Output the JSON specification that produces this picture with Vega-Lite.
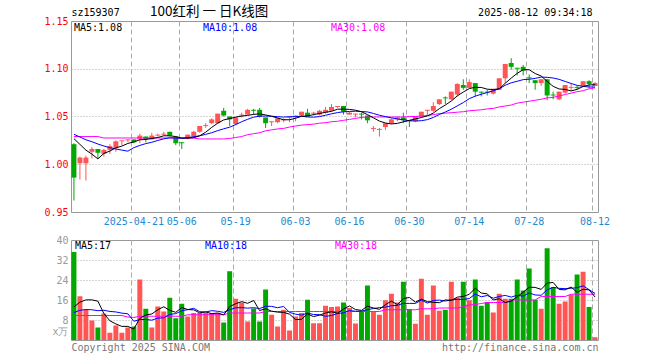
{
"$schema":"https://vega.github.io/schema/vega-lite/v6.json",
"padding":{"left":43,"top":4,"right":0,"bottom":0},
"background":"white",
"bounds":"flush",
"spacing":28,
"config":{"view":{"stroke":"#999","strokeWidth":1},"font":"DejaVu Sans Mono","axis":{"labelOverlap":false}},
"data":{"values":[
{"d":"2025-04-07","o":1.021,"h":1.022,"l":0.962,"c":0.986,"v":35.2,"m5":1.0268,"m10":1.0314,"m30":1.029,"vm5":13.2,"vm10":11.0,"vm30":9.8},
{"d":"2025-04-08","o":1.001,"h":1.008,"l":0.984,"c":1.007,"v":17.5,"m5":1.0208,"m10":1.0285,"m30":1.029,"vm5":15.16,"vm10":11.87,"vm30":9.8},
{"d":"2025-04-09","o":1.001,"h":1.009,"l":0.983,"c":1.007,"v":12.1,"m5":1.0148,"m10":1.0256,"m30":1.029,"vm5":16.04,"vm10":12.2,"vm30":9.8},
{"d":"2025-04-10","o":1.013,"h":1.018,"l":1.006,"c":1.016,"v":7.8,"m5":1.0106,"m10":1.0236,"m30":1.029,"vm5":16.06,"vm10":12.1,"vm30":9.8},
{"d":"2025-04-11","o":1.016,"h":1.016,"l":1.006,"c":1.012,"v":5.0,"m5":1.0056,"m10":1.0212,"m30":1.029,"vm5":15.52,"vm10":11.72,"vm30":9.8},
{"d":"2025-04-14","o":1.011,"h":1.016,"l":1.008,"c":1.015,"v":10.6,"m5":1.0114,"m10":1.0191,"m30":1.0275,"vm5":10.6,"vm10":11.9,"vm30":9.8},
{"d":"2025-04-15","o":1.015,"h":1.021,"l":1.011,"c":1.019,"v":2.9,"m5":1.0138,"m10":1.0173,"m30":1.0275,"vm5":7.68,"vm10":11.42,"vm30":9.8},
{"d":"2025-04-16","o":1.017,"h":1.025,"l":1.013,"c":1.024,"v":5.8,"m5":1.0172,"m10":1.016,"m30":1.0275,"vm5":6.42,"vm10":11.23,"vm30":9.8},
{"d":"2025-04-17","o":1.024,"h":1.025,"l":1.020,"c":1.025,"v":2.9,"m5":1.019,"m10":1.0148,"m30":1.0275,"vm5":5.44,"vm10":10.75,"vm30":9.8},
{"d":"2025-04-18","o":1.025,"h":1.026,"l":1.023,"c":1.026,"v":5.0,"m5":1.0218,"m10":1.0137,"m30":1.0275,"vm5":5.44,"vm10":10.48,"vm30":9.2},
{"d":"2025-04-21","o":1.026,"h":1.026,"l":1.022,"c":1.023,"v":5.4,"m5":1.0234,"m10":1.0174,"m30":1.0275,"vm5":4.4,"vm10":7.5,"vm30":9.0},
{"d":"2025-04-22","o":1.026,"h":1.032,"l":1.022,"c":1.030,"v":24.2,"m5":1.0256,"m10":1.0197,"m30":1.0275,"vm5":8.66,"vm10":8.17,"vm30":9.5},
{"d":"2025-04-23","o":1.029,"h":1.029,"l":1.023,"c":1.026,"v":12.5,"m5":1.026,"m10":1.0216,"m30":1.0275,"vm5":10.0,"vm10":8.21,"vm30":9.5},
{"d":"2025-04-24","o":1.026,"h":1.033,"l":1.026,"c":1.030,"v":5.0,"m5":1.027,"m10":1.023,"m30":1.0275,"vm5":10.42,"vm10":7.93,"vm30":9.5},
{"d":"2025-04-25","o":1.030,"h":1.032,"l":1.029,"c":1.031,"v":13.4,"m5":1.028,"m10":1.0249,"m30":1.0275,"vm5":12.1,"vm10":8.77,"vm30":9.5},
{"d":"2025-04-28","o":1.031,"h":1.034,"l":1.030,"c":1.032,"v":11.4,"m5":1.0298,"m10":1.0266,"m30":1.0275,"vm5":13.3,"vm10":8.85,"vm30":9.5},
{"d":"2025-04-29","o":1.034,"h":1.034,"l":1.029,"c":1.030,"v":16.9,"m5":1.0298,"m10":1.0277,"m30":1.0275,"vm5":11.84,"vm10":10.25,"vm30":9.5},
{"d":"2025-04-30","o":1.029,"h":1.029,"l":1.020,"c":1.022,"v":8.7,"m5":1.029,"m10":1.0275,"m30":1.0275,"vm5":11.08,"vm10":10.54,"vm30":9.5},
{"d":"2025-05-06","o":1.023,"h":1.023,"l":1.016,"c":1.022,"v":14.5,"m5":1.0274,"m10":1.0272,"m30":1.0275,"vm5":12.98,"vm10":11.7,"vm30":9.5},
{"d":"2025-05-07","o":1.027,"h":1.031,"l":1.026,"c":1.031,"v":9.4,"m5":1.0274,"m10":1.0277,"m30":1.0275,"vm5":12.18,"vm10":12.14,"vm30":10.1},
{"d":"2025-05-08","o":1.029,"h":1.035,"l":1.028,"c":1.034,"v":10.8,"m5":1.0278,"m10":1.0288,"m30":1.0275,"vm5":12.06,"vm10":12.68,"vm30":10.1},
{"d":"2025-05-09","o":1.034,"h":1.040,"l":1.033,"c":1.040,"v":10.8,"m5":1.0298,"m10":1.0298,"m30":1.0265,"vm5":10.84,"vm10":11.34,"vm30":10.1},
{"d":"2025-05-12","o":1.040,"h":1.043,"l":1.038,"c":1.041,"v":10.8,"m5":1.0336,"m10":1.0313,"m30":1.0265,"vm5":11.26,"vm10":11.17,"vm30":10.1},
{"d":"2025-05-13","o":1.043,"h":1.048,"l":1.042,"c":1.047,"v":10.8,"m5":1.0386,"m10":1.033,"m30":1.0265,"vm5":10.52,"vm10":11.75,"vm30":10.1},
{"d":"2025-05-14","o":1.043,"h":1.053,"l":1.042,"c":1.053,"v":10.8,"m5":1.043,"m10":1.0352,"m30":1.0265,"vm5":10.8,"vm10":11.49,"vm30":10.1},
{"d":"2025-05-15","o":1.056,"h":1.059,"l":1.050,"c":1.051,"v":7.0,"m5":1.0464,"m10":1.0371,"m30":1.0265,"vm5":10.04,"vm10":11.05,"vm30":10.1},
{"d":"2025-05-16","o":1.050,"h":1.050,"l":1.040,"c":1.047,"v":27.5,"m5":1.0478,"m10":1.0388,"m30":1.027,"vm5":13.38,"vm10":12.11,"vm30":10.8},
{"d":"2025-05-19","o":1.042,"h":1.049,"l":1.041,"c":1.049,"v":16.5,"m5":1.0494,"m10":1.0415,"m30":1.028,"vm5":14.52,"vm10":12.89,"vm30":10.8},
{"d":"2025-05-20","o":1.051,"h":1.054,"l":1.049,"c":1.052,"v":15.0,"m5":1.0504,"m10":1.0445,"m30":1.029,"vm5":15.36,"vm10":12.94,"vm30":10.8},
{"d":"2025-05-21","o":1.052,"h":1.058,"l":1.052,"c":1.057,"v":7.4,"m5":1.0512,"m10":1.0471,"m30":1.031,"vm5":14.68,"vm10":12.74,"vm30":10.8},
{"d":"2025-05-22","o":1.057,"h":1.058,"l":1.052,"c":1.056,"v":12.6,"m5":1.0522,"m10":1.0493,"m30":1.032,"vm5":15.8,"vm10":12.92,"vm30":10.8},
{"d":"2025-05-23","o":1.057,"h":1.059,"l":1.049,"c":1.050,"v":7.4,"m5":1.0528,"m10":1.0503,"m30":1.033,"vm5":11.78,"vm10":12.58,"vm30":10.8},
{"d":"2025-05-26","o":1.049,"h":1.049,"l":1.038,"c":1.043,"v":20.2,"m5":1.0516,"m10":1.0505,"m30":1.035,"vm5":12.52,"vm10":13.52,"vm30":11.4},
{"d":"2025-05-27","o":1.044,"h":1.045,"l":1.040,"c":1.045,"v":10.1,"m5":1.0502,"m10":1.0503,"m30":1.036,"vm5":11.54,"vm10":13.45,"vm30":11.4},
{"d":"2025-05-28","o":1.044,"h":1.049,"l":1.043,"c":1.048,"v":5.4,"m5":1.0484,"m10":1.0498,"m30":1.037,"vm5":11.14,"vm10":12.91,"vm30":11.4},
{"d":"2025-05-29","o":1.046,"h":1.048,"l":1.044,"c":1.047,"v":12.1,"m5":1.0466,"m10":1.0494,"m30":1.0375,"vm5":11.04,"vm10":13.42,"vm30":11.4},
{"d":"2025-05-30","o":1.049,"h":1.050,"l":1.044,"c":1.050,"v":3.8,"m5":1.0466,"m10":1.0497,"m30":1.039,"vm5":10.32,"vm10":11.05,"vm30":11.4},
{"d":"2025-06-03","o":1.050,"h":1.051,"l":1.045,"c":1.051,"v":9.4,"m5":1.0482,"m10":1.0499,"m30":1.040,"vm5":8.16,"vm10":10.34,"vm30":11.4},
{"d":"2025-06-04","o":1.051,"h":1.055,"l":1.050,"c":1.055,"v":10.8,"m5":1.0502,"m10":1.0502,"m30":1.041,"vm5":8.3,"vm10":9.92,"vm30":11.4},
{"d":"2025-06-05","o":1.054,"h":1.058,"l":1.050,"c":1.050,"v":16.1,"m5":1.0506,"m10":1.0495,"m30":1.0415,"vm5":10.44,"vm10":10.79,"vm30":11.4},
{"d":"2025-06-06","o":1.053,"h":1.055,"l":1.051,"c":1.054,"v":6.7,"m5":1.052,"m10":1.0493,"m30":1.042,"vm5":9.36,"vm10":10.2,"vm30":11.4},
{"d":"2025-06-09","o":1.052,"h":1.057,"l":1.051,"c":1.056,"v":6.7,"m5":1.0532,"m10":1.0499,"m30":1.043,"vm5":9.94,"vm10":10.13,"vm30":11.4},
{"d":"2025-06-10","o":1.054,"h":1.060,"l":1.053,"c":1.057,"v":13.7,"m5":1.0544,"m10":1.0513,"m30":1.0435,"vm5":10.8,"vm10":9.48,"vm30":11.4},
{"d":"2025-06-11","o":1.056,"h":1.063,"l":1.056,"c":1.060,"v":13.2,"m5":1.0554,"m10":1.0528,"m30":1.0445,"vm5":11.28,"vm10":9.79,"vm30":11.4},
{"d":"2025-06-12","o":1.060,"h":1.061,"l":1.059,"c":1.061,"v":13.4,"m5":1.0576,"m10":1.0541,"m30":1.045,"vm5":10.74,"vm10":10.59,"vm30":11.4},
{"d":"2025-06-13","o":1.061,"h":1.061,"l":1.052,"c":1.055,"v":15.0,"m5":1.0578,"m10":1.0549,"m30":1.046,"vm5":12.4,"vm10":10.88,"vm30":11.4},
{"d":"2025-06-16","o":1.052,"h":1.055,"l":1.052,"c":1.054,"v":12.8,"m5":1.0574,"m10":1.0553,"m30":1.047,"vm5":13.62,"vm10":11.78,"vm30":11.4},
{"d":"2025-06-17","o":1.052,"h":1.053,"l":1.049,"c":1.053,"v":6.6,"m5":1.0566,"m10":1.0555,"m30":1.048,"vm5":12.2,"vm10":11.5,"vm30":11.4},
{"d":"2025-06-18","o":1.053,"h":1.054,"l":1.047,"c":1.052,"v":11.4,"m5":1.055,"m10":1.0552,"m30":1.049,"vm5":11.84,"vm10":11.56,"vm30":11.4},
{"d":"2025-06-19","o":1.051,"h":1.051,"l":1.043,"c":1.046,"v":21.8,"m5":1.052,"m10":1.0548,"m30":1.0495,"vm5":13.52,"vm10":12.13,"vm30":11.4},
{"d":"2025-06-20","o":1.037,"h":1.040,"l":1.034,"c":1.038,"v":11.4,"m5":1.0486,"m10":1.0532,"m30":1.0495,"vm5":12.8,"vm10":12.6,"vm30":11.4},
{"d":"2025-06-23","o":1.036,"h":1.038,"l":1.029,"c":1.037,"v":10.1,"m5":1.0452,"m10":1.0513,"m30":1.0495,"vm5":12.26,"vm10":12.94,"vm30":11.4},
{"d":"2025-06-24","o":1.039,"h":1.043,"l":1.036,"c":1.043,"v":15.9,"m5":1.0432,"m10":1.0499,"m30":1.0495,"vm5":14.12,"vm10":13.16,"vm30":12.1},
{"d":"2025-06-25","o":1.043,"h":1.048,"l":1.042,"c":1.047,"v":18.5,"m5":1.0422,"m10":1.0486,"m30":1.0495,"vm5":15.54,"vm10":13.69,"vm30":12.1},
{"d":"2025-06-26","o":1.047,"h":1.050,"l":1.045,"c":1.049,"v":15.0,"m5":1.0428,"m10":1.0474,"m30":1.0495,"vm5":14.18,"vm10":13.85,"vm30":12.1},
{"d":"2025-06-27","o":1.049,"h":1.054,"l":1.043,"c":1.046,"v":23.3,"m5":1.0444,"m10":1.0465,"m30":1.0495,"vm5":16.56,"vm10":14.68,"vm30":12.1},
{"d":"2025-06-30","o":1.046,"h":1.046,"l":1.039,"c":1.045,"v":12.4,"m5":1.046,"m10":1.0456,"m30":1.050,"vm5":17.02,"vm10":14.64,"vm30":12.1},
{"d":"2025-07-01","o":1.045,"h":1.050,"l":1.044,"c":1.050,"v":6.5,"m5":1.0474,"m10":1.0453,"m30":1.050,"vm5":15.14,"vm10":14.63,"vm30":12.1},
{"d":"2025-07-02","o":1.050,"h":1.055,"l":1.049,"c":1.055,"v":24.5,"m5":1.049,"m10":1.0456,"m30":1.0505,"vm5":16.34,"vm10":15.94,"vm30":12.5},
{"d":"2025-07-03","o":1.056,"h":1.057,"l":1.051,"c":1.057,"v":10.1,"m5":1.0506,"m10":1.0467,"m30":1.051,"vm5":15.36,"vm10":14.77,"vm30":12.5},
{"d":"2025-07-04","o":1.056,"h":1.065,"l":1.055,"c":1.061,"v":21.8,"m5":1.0536,"m10":1.049,"m30":1.052,"vm5":15.06,"vm10":15.81,"vm30":12.5},
{"d":"2025-07-07","o":1.063,"h":1.068,"l":1.062,"c":1.068,"v":11.7,"m5":1.0582,"m10":1.0521,"m30":1.053,"vm5":14.92,"vm10":15.97,"vm30":12.8},
{"d":"2025-07-08","o":1.070,"h":1.071,"l":1.063,"c":1.069,"v":12.1,"m5":1.062,"m10":1.0547,"m30":1.0535,"vm5":16.04,"vm10":15.59,"vm30":12.8},
{"d":"2025-07-09","o":1.068,"h":1.076,"l":1.067,"c":1.076,"v":23.3,"m5":1.0662,"m10":1.0576,"m30":1.054,"vm5":15.8,"vm10":16.07,"vm30":12.8},
{"d":"2025-07-10","o":1.073,"h":1.085,"l":1.071,"c":1.084,"v":16.8,"m5":1.0716,"m10":1.0611,"m30":1.0545,"vm5":17.14,"vm10":16.25,"vm30":12.8},
{"d":"2025-07-11","o":1.083,"h":1.089,"l":1.078,"c":1.080,"v":23.3,"m5":1.0756,"m10":1.0646,"m30":1.055,"vm5":17.44,"vm10":16.25,"vm30":13.3},
{"d":"2025-07-14","o":1.080,"h":1.089,"l":1.080,"c":1.086,"v":15.9,"m5":1.0792,"m10":1.0687,"m30":1.056,"vm5":18.28,"vm10":16.6,"vm30":14.0},
{"d":"2025-07-15","o":1.085,"h":1.085,"l":1.071,"c":1.076,"v":24.2,"m5":1.0806,"m10":1.0713,"m30":1.0565,"vm5":20.7,"vm10":18.37,"vm30":14.2},
{"d":"2025-07-16","o":1.076,"h":1.076,"l":1.071,"c":1.075,"v":13.7,"m5":1.0804,"m10":1.0733,"m30":1.057,"vm5":18.78,"vm10":17.29,"vm30":14.6},
{"d":"2025-07-17","o":1.076,"h":1.078,"l":1.072,"c":1.075,"v":15.2,"m5":1.0786,"m10":1.0751,"m30":1.058,"vm5":18.46,"vm10":17.8,"vm30":15.0},
{"d":"2025-07-18","o":1.074,"h":1.079,"l":1.073,"c":1.079,"v":11.0,"m5":1.0782,"m10":1.0769,"m30":1.0585,"vm5":16.0,"vm10":16.72,"vm30":15.0},
{"d":"2025-07-21","o":1.078,"h":1.090,"l":1.078,"c":1.090,"v":18.5,"m5":1.079,"m10":1.0791,"m30":1.060,"vm5":16.52,"vm10":17.4,"vm30":15.0},
{"d":"2025-07-22","o":1.090,"h":1.105,"l":1.085,"c":1.105,"v":16.5,"m5":1.0848,"m10":1.0827,"m30":1.061,"vm5":14.98,"vm10":17.84,"vm30":15.0},
{"d":"2025-07-23","o":1.106,"h":1.111,"l":1.099,"c":1.102,"v":16.5,"m5":1.0902,"m10":1.0853,"m30":1.062,"vm5":15.54,"vm10":17.16,"vm30":16.0},
{"d":"2025-07-24","o":1.101,"h":1.101,"l":1.093,"c":1.100,"v":24.2,"m5":1.0952,"m10":1.0869,"m30":1.064,"vm5":17.34,"vm10":17.9,"vm30":16.0},
{"d":"2025-07-25","o":1.102,"h":1.104,"l":1.093,"c":1.098,"v":19.8,"m5":1.099,"m10":1.0886,"m30":1.065,"vm5":19.1,"vm10":17.55,"vm30":16.0},
{"d":"2025-07-28","o":1.091,"h":1.094,"l":1.085,"c":1.090,"v":28.6,"m5":1.099,"m10":1.089,"m30":1.066,"vm5":21.12,"vm10":18.82,"vm30":16.0},
{"d":"2025-07-29","o":1.088,"h":1.088,"l":1.078,"c":1.085,"v":16.1,"m5":1.095,"m10":1.0899,"m30":1.067,"vm5":21.04,"vm10":18.01,"vm30":16.0},
{"d":"2025-07-30","o":1.085,"h":1.089,"l":1.082,"c":1.089,"v":12.5,"m5":1.0924,"m10":1.0913,"m30":1.068,"vm5":20.24,"vm10":17.89,"vm30":17.4},
{"d":"2025-07-31","o":1.089,"h":1.089,"l":1.067,"c":1.072,"v":36.7,"m5":1.0868,"m10":1.091,"m30":1.0695,"vm5":22.74,"vm10":20.04,"vm30":17.4},
{"d":"2025-08-01","o":1.073,"h":1.076,"l":1.068,"c":1.072,"v":21.2,"m5":1.0816,"m10":1.0903,"m30":1.070,"vm5":23.02,"vm10":21.06,"vm30":17.4},
{"d":"2025-08-04","o":1.068,"h":1.076,"l":1.067,"c":1.076,"v":14.5,"m5":1.0788,"m10":1.0889,"m30":1.0715,"vm5":20.2,"vm10":20.66,"vm30":17.4},
{"d":"2025-08-05","o":1.075,"h":1.083,"l":1.074,"c":1.083,"v":15.4,"m5":1.0784,"m10":1.0867,"m30":1.073,"vm5":20.06,"vm10":20.55,"vm30":17.4},
{"d":"2025-08-06","o":1.080,"h":1.084,"l":1.077,"c":1.081,"v":18.1,"m5":1.0768,"m10":1.0846,"m30":1.0745,"vm5":21.18,"vm10":20.71,"vm30":18.3},
{"d":"2025-08-07","o":1.081,"h":1.082,"l":1.078,"c":1.080,"v":26.2,"m5":1.0784,"m10":1.0826,"m30":1.076,"vm5":19.08,"vm10":20.91,"vm30":18.3},
{"d":"2025-08-08","o":1.082,"h":1.087,"l":1.081,"c":1.087,"v":27.3,"m5":1.0814,"m10":1.0815,"m30":1.077,"vm5":20.3,"vm10":21.66,"vm30":18.3},
{"d":"2025-08-11","o":1.087,"h":1.088,"l":1.080,"c":1.084,"v":13.2,"m5":1.083,"m10":1.0809,"m30":1.079,"vm5":20.04,"vm10":20.12,"vm30":18.3},
{"d":"2025-08-12","o":1.082,"h":1.086,"l":1.082,"c":1.085,"v":1.1,"m5":1.0834,"m10":1.0809,"m30":1.080,"vm5":17.18,"vm10":18.62,"vm30":18.3}
]},
"vconcat":[
{
"width":527,"height":191,
"title":{"text":"100红利 一 日K线图","anchor":"start","frame":"group","dx":79,"offset":-11,"font":"Noto Sans CJK SC","fontSize":13.5,"fontWeight":"normal","color":"#000"},
"encoding":{"x":{"field":"d","type":"ordinal","sort":null,"scale":{"paddingInner":0.17,"paddingOuter":0.075},
"axis":{"values":["2025-04-21","2025-05-06","2025-05-19","2025-06-03","2025-06-16","2025-06-30","2025-07-14","2025-07-28","2025-08-12"],"bandPosition":0,"labelExpr":"datum.value == '2025-04-21' ? datum.value : substring(datum.value, 5)","labelColor":"#1e8ad2","labelFont":"DejaVu Sans Mono","labelFontSize":10,"labelAngle":0,"labelPadding":4,"labelOverlap":false,"labelFlush":false,"ticks":false,"domain":false,"grid":true,"gridColor":"#aaa","gridDash":[5,3],"title":"2025-08-12 09:34:18","titleX":521,"titleY":-200,"titleAlign":"right","titleBaseline":"middle","titleFont":"DejaVu Sans Mono","titleFontSize":10,"titleFontWeight":"normal","titleColor":"#000"}}},
"layer":[
{"mark":{"type":"rule","strokeWidth":1},"encoding":{"y":{"field":"l","type":"quantitative","scale":{"domain":[0.95,1.15],"zero":false,"nice":false},
"axis":{"values":[0.95,1,1.05,1.1,1.15],"tickCount":10,"format":".2f","labelColor":"#f00","labelFont":"DejaVu Sans Mono","labelFontSize":10,"labelPadding":3,"labelFlush":false,"labelOverlap":false,"ticks":false,"domain":false,"gridColor":"#aaa","gridDash":[1,2],"gridOpacity":{"condition":{"test":"datum.value < 0.96 || datum.value > 1.14","value":0},"value":1},"title":"sz159307","titleAngle":0,"titleX":0,"titleY":-9,"titleAlign":"left","titleBaseline":"middle","titleFont":"DejaVu Sans Mono","titleFontSize":10,"titleFontWeight":"normal","titleColor":"#000"}},
"y2":{"field":"h"},
"color":{"condition":{"test":"datum.c >= datum.o","value":"#ff5555"},"value":"#00a800"}}},
{"mark":{"type":"bar"},"encoding":{"y":{"field":"o","type":"quantitative"},"y2":{"field":"c"},"color":{"condition":{"test":"datum.c >= datum.o","value":"#ff5555"},"value":"#00a800"}}},
{"mark":{"type":"line","strokeWidth":1},"encoding":{"y":{"field":"m30","type":"quantitative"},"color":{"datum":"MA30:1.08","type":"nominal","scale":{"range":["#ff00ff"]},"legend":{"orient":"none","legendX":250,"legendY":2,"title":null,"padding":0,"symbolSize":0,"symbolOpacity":0,"symbolStrokeWidth":0,"labelOffset":0,"labelColor":"#ff00ff","labelFont":"DejaVu Sans Mono","labelFontSize":10}}}},
{"mark":{"type":"line","strokeWidth":1},"encoding":{"y":{"field":"m10","type":"quantitative"},"color":{"datum":"MA10:1.08","type":"nominal","scale":{"range":["#0000ff"]},"legend":{"orient":"none","legendX":122,"legendY":2,"title":null,"padding":0,"symbolSize":0,"symbolOpacity":0,"symbolStrokeWidth":0,"labelOffset":0,"labelColor":"#0000ff","labelFont":"DejaVu Sans Mono","labelFontSize":10}}}},
{"mark":{"type":"line","strokeWidth":1},"encoding":{"y":{"field":"m5","type":"quantitative"},"color":{"datum":"MA5:1.08","type":"nominal","scale":{"range":["#000000"]},"legend":{"orient":"none","legendX":-7,"legendY":2,"title":null,"padding":0,"symbolSize":0,"symbolOpacity":0,"symbolStrokeWidth":0,"labelOffset":0,"labelColor":"#000000","labelFont":"DejaVu Sans Mono","labelFontSize":10}}}}
],
"resolve":{"scale":{"color":"independent"}}
},
{
"width":527,"height":100,
"encoding":{"x":{"field":"d","type":"ordinal","sort":null,"scale":{"paddingInner":0.17,"paddingOuter":0.075},
"axis":{"values":["2025-04-21","2025-05-06","2025-05-19","2025-06-03","2025-06-16","2025-06-30","2025-07-14","2025-07-28","2025-08-12"],"bandPosition":0,"labels":false,"ticks":false,"domain":false,"grid":true,"gridColor":"#aaa","gridDash":[5,3],"title":"http://finance.sina.com.cn","titleX":527,"titleY":7,"titleAlign":"right","titleBaseline":"middle","titleFont":"DejaVu Sans Mono","titleFontSize":10,"titleFontWeight":"normal","titleColor":"#777"}}},
"layer":[
{"mark":{"type":"bar"},"encoding":{"y":{"field":"v","type":"quantitative","scale":{"domain":[0,40],"nice":false},
"axis":{"values":[0,8,16,24,32,40],"tickCount":10,"labelExpr":"datum.value == 0 ? 'x万' : datum.value","labelOffset":{"condition":{"test":"datum.value == 0","value":-9},"value":0},"labelColor":"#999","labelFont":"DejaVu Sans Mono","labelFontSize":10,"labelPadding":3,"labelFlush":false,"labelOverlap":false,"ticks":false,"domain":false,"gridColor":"#aaa","gridDash":[1,2],"gridOpacity":{"condition":{"test":"datum.value < 5 || datum.value > 39","value":0},"value":1},"title":"Copyright 2025 SINA.COM","titleAngle":0,"titleX":0,"titleY":107,"titleAlign":"left","titleBaseline":"middle","titleFont":"DejaVu Sans Mono","titleFontSize":10,"titleFontWeight":"normal","titleColor":"#777"}},
"color":{"condition":{"test":"datum.c >= datum.o","value":"#ff5555"},"value":"#00a800"}}},
{"mark":{"type":"line","strokeWidth":1},"encoding":{"y":{"field":"vm30","type":"quantitative"},"color":{"datum":"MA30:18","type":"nominal","scale":{"range":["#ff00ff"]},"legend":{"orient":"none","legendX":254,"legendY":1,"title":null,"padding":0,"symbolSize":0,"symbolOpacity":0,"symbolStrokeWidth":0,"labelOffset":0,"labelColor":"#ff00ff","labelFont":"DejaVu Sans Mono","labelFontSize":10}}}},
{"mark":{"type":"line","strokeWidth":1},"encoding":{"y":{"field":"vm10","type":"quantitative"},"color":{"datum":"MA10:18","type":"nominal","scale":{"range":["#0000ff"]},"legend":{"orient":"none","legendX":124,"legendY":1,"title":null,"padding":0,"symbolSize":0,"symbolOpacity":0,"symbolStrokeWidth":0,"labelOffset":0,"labelColor":"#0000ff","labelFont":"DejaVu Sans Mono","labelFontSize":10}}}},
{"mark":{"type":"line","strokeWidth":1},"encoding":{"y":{"field":"vm5","type":"quantitative"},"color":{"datum":"MA5:17","type":"nominal","scale":{"range":["#000000"]},"legend":{"orient":"none","legendX":-6,"legendY":1,"title":null,"padding":0,"symbolSize":0,"symbolOpacity":0,"symbolStrokeWidth":0,"labelOffset":0,"labelColor":"#000000","labelFont":"DejaVu Sans Mono","labelFontSize":10}}}}
],
"resolve":{"scale":{"color":"independent"}}
}
]
}
